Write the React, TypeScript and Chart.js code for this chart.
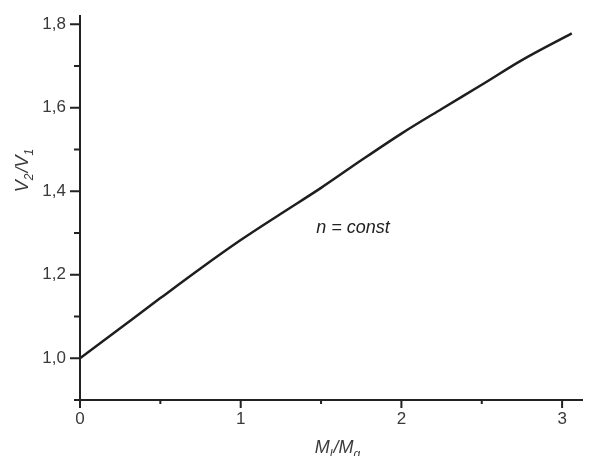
import React, { useEffect, useRef } from 'react';
import { Chart, registerables } from 'chart.js';

Chart.register(...registerables);

const ratioMlMg = [0, 0.25, 0.5, 0.75, 1, 1.25, 1.5, 1.75, 2, 2.25, 2.5, 2.75, 3.06];
const ratioV2V1 = [1.0, 1.072, 1.144, 1.215, 1.283, 1.346, 1.408, 1.474, 1.538, 1.597, 1.655, 1.714, 1.778];

const yMajorTicks = [1.0, 1.2, 1.4, 1.6, 1.8];
const yTickLabels = ['1,0', '1,2', '1,4', '1,6', '1,8'];
const yMinorTicks = [0.9, 1.1, 1.3, 1.5, 1.7];
const xMajorTicks = [0, 1, 2, 3];
const xTickLabels = ['0', '1', '2', '3'];
const xMinorTicks = [0.5, 1.5, 2.5];

const annotationText = 'n = const';
const annotationAt = [1.47, 1.3];

const FONT = '"Liberation Sans", Arial, sans-serif';

function measureSubText(ctx: CanvasRenderingContext2D, parts: [string, boolean][], size: number) {
  let w = 0;
  for (const [t, sub] of parts) {
    ctx.font = `italic ${sub ? Math.round(size * 0.65) : size}px ${FONT}`;
    w += ctx.measureText(t).width + (sub ? 1 : 0);
  }
  return w;
}

function renderSubText(ctx: CanvasRenderingContext2D, parts: [string, boolean][], size: number, x: number, y: number) {
  let cx = x;
  for (const [t, sub] of parts) {
    ctx.font = `italic ${sub ? Math.round(size * 0.65) : size}px ${FONT}`;
    ctx.fillText(t, cx, sub ? y + size * 0.3 : y);
    cx += ctx.measureText(t).width + (sub ? 1 : 0);
  }
}

const axesPlugin = {
  id: 'customAxes',
  afterDraw(chart: any) {
    const { ctx, chartArea, scales } = chart;
    const xs = scales.x;
    const ys = scales.y;
    const x0 = xs.getPixelForValue(0);
    const yb = ys.getPixelForValue(0.9);
    ctx.save();
    ctx.strokeStyle = '#222';
    ctx.fillStyle = '#3a3a3a';
    ctx.lineWidth = 2;
    ctx.beginPath();
    ctx.moveTo(x0, yb);
    ctx.lineTo(chartArea.right, yb);
    ctx.moveTo(x0, yb);
    ctx.lineTo(x0, chartArea.top);
    ctx.stroke();

    ctx.beginPath();
    yMajorTicks.forEach((v) => {
      const p = ys.getPixelForValue(v);
      ctx.moveTo(x0 - 10, p);
      ctx.lineTo(x0, p);
    });
    yMinorTicks.forEach((v) => {
      const p = ys.getPixelForValue(v);
      ctx.moveTo(x0 - 6, p);
      ctx.lineTo(x0, p);
    });
    xMajorTicks.forEach((v) => {
      const p = xs.getPixelForValue(v);
      ctx.moveTo(p, yb);
      ctx.lineTo(p, yb + 8);
    });
    xMinorTicks.forEach((v) => {
      const p = xs.getPixelForValue(v);
      ctx.moveTo(p, yb);
      ctx.lineTo(p, yb + 4);
    });
    ctx.stroke();

    ctx.font = `17px ${FONT}`;
    ctx.textAlign = 'right';
    ctx.textBaseline = 'middle';
    yMajorTicks.forEach((v, i) => {
      ctx.fillText(yTickLabels[i], x0 - 14, ys.getPixelForValue(v));
    });
    ctx.textAlign = 'center';
    ctx.textBaseline = 'top';
    xMajorTicks.forEach((v, i) => {
      ctx.fillText(xTickLabels[i], xs.getPixelForValue(v), yb + 11);
    });

    ctx.textAlign = 'left';
    ctx.textBaseline = 'alphabetic';
    const xParts: [string, boolean][] = [['M', false], ['l', true], ['/M', false], ['g', true]];
    const xw = measureSubText(ctx, xParts, 18);
    renderSubText(ctx, xParts, 18, 338 - xw / 2, 453);

    const yParts: [string, boolean][] = [['V', false], ['2', true], ['/V', false], ['1', true]];
    const yw = measureSubText(ctx, yParts, 18);
    ctx.save();
    ctx.translate(28, 170);
    ctx.rotate(-Math.PI / 2);
    renderSubText(ctx, yParts, 18, -yw / 2, 0);
    ctx.restore();

    ctx.font = `italic 18px ${FONT}`;
    ctx.textAlign = 'left';
    ctx.fillStyle = '#222';
    ctx.fillText(annotationText, xs.getPixelForValue(annotationAt[0]), ys.getPixelForValue(annotationAt[1]));
    ctx.restore();
  },
};

export default function App() {
  const ref = useRef<HTMLCanvasElement | null>(null);
  useEffect(() => {
    if (!ref.current) return;
    const chart = new Chart(ref.current, {
      type: 'line',
      data: {
        datasets: [
          {
            data: ratioMlMg.map((x, i) => ({ x, y: ratioV2V1[i] })),
            borderColor: '#1e1e1e',
            borderWidth: 2.5,
            pointRadius: 0,
            cubicInterpolationMode: 'monotone',
            fill: false,
          },
        ],
      },
      options: {
        animation: false,
        responsive: false,
        maintainAspectRatio: false,
        layout: { padding: { left: 80, right: 8, top: 15, bottom: 56 } },
        plugins: { legend: { display: false }, tooltip: { enabled: false } },
        scales: {
          x: { type: 'linear', min: 0, max: 3.13, display: false },
          y: { type: 'linear', min: 0.9, max: 1.822, display: false },
        },
      },
      plugins: [axesPlugin],
    });
    return () => chart.destroy();
  }, []);
  return (
    <div style={{ position: 'fixed', left: 0, top: 0, width: 591, height: 456, background: '#fff' }}>
      <canvas ref={ref} width={591} height={456} style={{ display: 'block' }} />
    </div>
  );
}
